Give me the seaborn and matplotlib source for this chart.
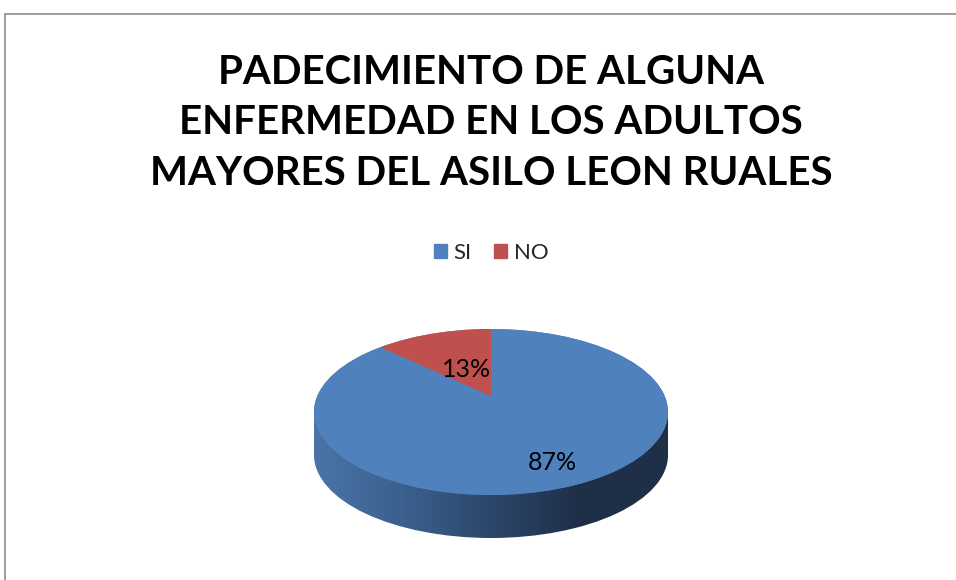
import numpy as np
import matplotlib
matplotlib.use("Agg")
import matplotlib.pyplot as plt
import seaborn as sns
from matplotlib.patches import Ellipse, Rectangle
from matplotlib.transforms import Affine2D
from matplotlib.colors import LinearSegmentedColormap

categories = ["SI", "NO"]
values = [87, 13]
title_lines = ["PADECIMIENTO DE ALGUNA",
               "ENFERMEDAD EN LOS ADULTOS",
               "MAYORES DEL ASILO LEON RUALES"]

sns.set_theme(style="white")
plt.rcParams["font.family"] = ["Lato", "DejaVu Sans"]

COLORS = ["#4F81BD", "#C0504D"]
SIDE_CMAP = LinearSegmentedColormap.from_list(
    "side", ["#4a74a8", "#3b608e", "#2d476b", "#1f2f48", "#1f2f48"])
LABEL_DIST = [0.87, 0.35]   # label distance from apex, per slice

W, H = 956, 580
fig = plt.figure(figsize=(W / 100, H / 100), dpi=100)
ax = fig.add_axes([0, 0, 1, 1])

# pie geometry in pixel space (y up)
cx, cy = 491, H - 412      # centre of the top face ellipse
apex_y = H - 396           # perspective: slices meet a bit above the centre
rx, ry = 177, 83
depth = 43
squash = ry / rx

# side wall of the 3D pie: gradient clipped to rect + lower ellipse
grad = np.linspace(0, 1, 256).reshape(1, -1)
ext = (cx - rx, cx + rx, cy - depth - ry, cy)
for clip in (Ellipse((cx, cy - depth), 2 * rx, 2 * ry),
             Rectangle((cx - rx, cy - depth), 2 * rx, depth)):
    clip.set_transform(ax.transData)
    im = ax.imshow(grad, extent=ext, cmap=SIDE_CMAP, aspect="auto", zorder=1)
    im.set_clip_path(clip)

# top face
top_face = Ellipse((cx, cy), 2 * rx, 2 * ry, facecolor=COLORS[0],
                   edgecolor="none", zorder=1.5)
ax.add_patch(top_face)

wedges, _, autotexts = ax.pie(
    values, colors=COLORS, startangle=90, counterclock=False,
    center=(cx, apex_y), radius=rx * 1.4, autopct="%1.0f%%",
    frame=True, wedgeprops=dict(linewidth=0),
    textprops=dict(fontsize=18, color="black"))

flat = Affine2D().translate(-cx, -apex_y).scale(1, squash).translate(cx, apex_y)
for w, t, d in zip(wedges, autotexts, LABEL_DIST):
    w.set_transform(flat + ax.transData)
    w.set_clip_on(True)
    w.set_clip_path(top_face)
    w.set_zorder(2)
    mid = np.deg2rad((w.theta1 + w.theta2) / 2)
    t.set_position((cx + d * rx * np.cos(mid), apex_y + d * ry * np.sin(mid)))
    t.set_zorder(3)

ax.set_xlim(0, W)
ax.set_ylim(0, H)
ax.set_aspect("auto")
ax.axis("off")

# chart area border (only top and left edges fall inside the image)
ax.add_patch(Rectangle((5.5, -20), 1100, H - 13.5 + 20, fill=False,
                       edgecolor="#8c8c8c", lw=1.2, zorder=0))

ax.text(cx, H - 123, "\n".join(title_lines), ha="center", va="center",
        fontsize=29, fontweight="bold", color="black", linespacing=1.45)

handles = [Rectangle((0, 0), 1, 1, color=c) for c in COLORS]
fig.legend(handles, categories, loc="center", bbox_to_anchor=(cx / W, 1 - 253 / H),
           ncol=2, frameon=False, fontsize=16, handlelength=0.6, handleheight=0.6,
           handletextpad=0.3, columnspacing=1.0)

fig.savefig("out.png", dpi=100, facecolor="white")
